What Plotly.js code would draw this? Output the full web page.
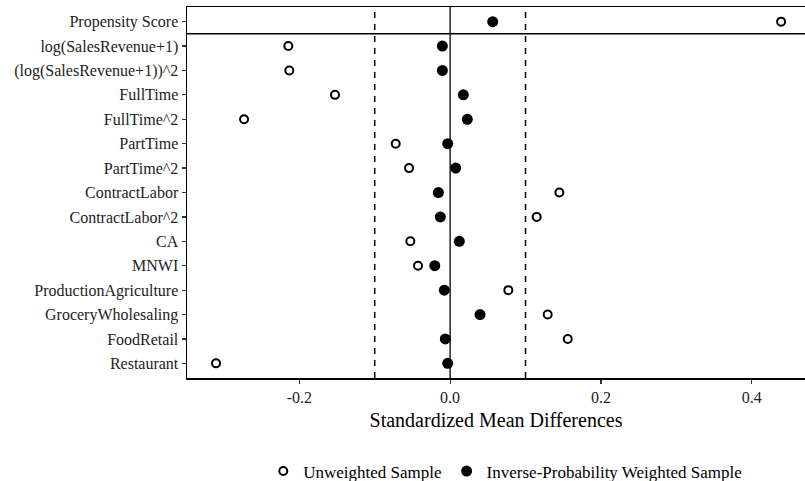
<!DOCTYPE html>
<html>
<head>
<meta charset="utf-8">
<script src="https://cdn.plot.ly/plotly-3.0.1.min.js"></script>
<style>
html,body{margin:0;padding:0;background:#fff;}
#chart{width:805px;height:481px;}
</style>
</head>
<body>
<div id="chart"></div>
<script>
const covariates = [
  "Propensity Score",
  "log(SalesRevenue+1)",
  "(log(SalesRevenue+1))^2",
  "FullTime",
  "FullTime^2",
  "PartTime",
  "PartTime^2",
  "ContractLabor",
  "ContractLabor^2",
  "CA",
  "MNWI",
  "ProductionAgriculture",
  "GroceryWholesaling",
  "FoodRetail",
  "Restaurant"
];
const unweighted = [0.439, -0.2146, -0.2133, -0.1527, -0.2733, -0.0722, -0.0545, 0.1449, 0.1148, -0.0528, -0.0426, 0.0772, 0.1294, 0.156, -0.3105];
const weighted = [0.0565, -0.0103, -0.0103, 0.0175, 0.0228, -0.0032, 0.0074, -0.0156, -0.013, 0.0122, -0.0204, -0.0077, 0.0397, -0.0064, -0.0032];
const threshold = 0.1;
const xTicks = [-0.2, 0.0, 0.2, 0.4];
const xTickLabels = ["-0.2", "0.0", "0.2", "0.4"];
const seriesNames = ["Unweighted Sample", "Inverse-Probability Weighted Sample"];

const font = "Liberation Serif, Times New Roman, serif";

const traces = [
  {
    type: "scatter", mode: "markers", name: seriesNames[0],
    x: unweighted, y: covariates,
    marker: {symbol: "circle-open", size: 8, color: "#000", line: {width: 2, color: "#000"}},
    cliponaxis: false
  },
  {
    type: "scatter", mode: "markers", name: seriesNames[1],
    x: weighted, y: covariates,
    marker: {symbol: "circle", size: 11, color: "#000"},
    cliponaxis: false
  }
];

const n = covariates.length;
const shapes = [
  {type: "line", xref: "x", yref: "paper", x0: -threshold, x1: -threshold, y0: 0, y1: 1,
   line: {color: "#000", width: 1.5, dash: "6px,6px"}, layer: "below"},
  {type: "line", xref: "x", yref: "paper", x0: threshold, x1: threshold, y0: 0, y1: 1,
   line: {color: "#000", width: 1.5, dash: "6px,6px"}, layer: "below"},
  {type: "line", xref: "x", yref: "paper", x0: 0, x1: 0, y0: 0, y1: 1,
   line: {color: "#000", width: 1.3}, layer: "below"},
  {type: "line", xref: "paper", yref: "y", x0: 0, x1: 1, y0: 0.5, y1: 0.5,
   line: {color: "#000", width: 1.5}, layer: "below"}
];

const layout = {
  width: 805, height: 481,
  margin: {l: 187, r: 0, t: 7, b: 103, autoexpand: false},
  paper_bgcolor: "#fff", plot_bgcolor: "#fff",
  font: {family: font, size: 16, color: "#000"},
  showlegend: true,
  legend: {orientation: "h", x: 0.515, xanchor: "center", y: -0.252, yanchor: "middle",
           font: {family: font, size: 17, color: "#000"}, itemwidth: 30},
  xaxis: {
    range: [-0.349, 0.4707],
    tickvals: xTicks, ticktext: xTickLabels,
    showgrid: false, zeroline: false,
    showline: true, linecolor: "#000", linewidth: 1.5, mirror: true,
    ticks: "outside", ticklen: 4, tickcolor: "#333", tickwidth: 1.2,
    tickfont: {family: font, size: 16, color: "#222"},
    title: {text: "Standardized Mean Differences", font: {family: font, size: 20, color: "#000"}, standoff: 8}
  },
  yaxis: {
    type: "category", categoryorder: "array", categoryarray: covariates,
    range: [n - 1 + 0.6, -0.6],
    showgrid: false, zeroline: false,
    showline: true, linecolor: "#000", linewidth: 1.5,
    ticks: "outside", ticklen: 4, tickcolor: "#333", tickwidth: 1.2,
    tickfont: {family: font, size: 16, color: "#222"}
  },
  shapes: shapes
};

Plotly.newPlot("chart", traces, layout, {displayModeBar: false, staticPlot: true});
</script>
</body>
</html>
